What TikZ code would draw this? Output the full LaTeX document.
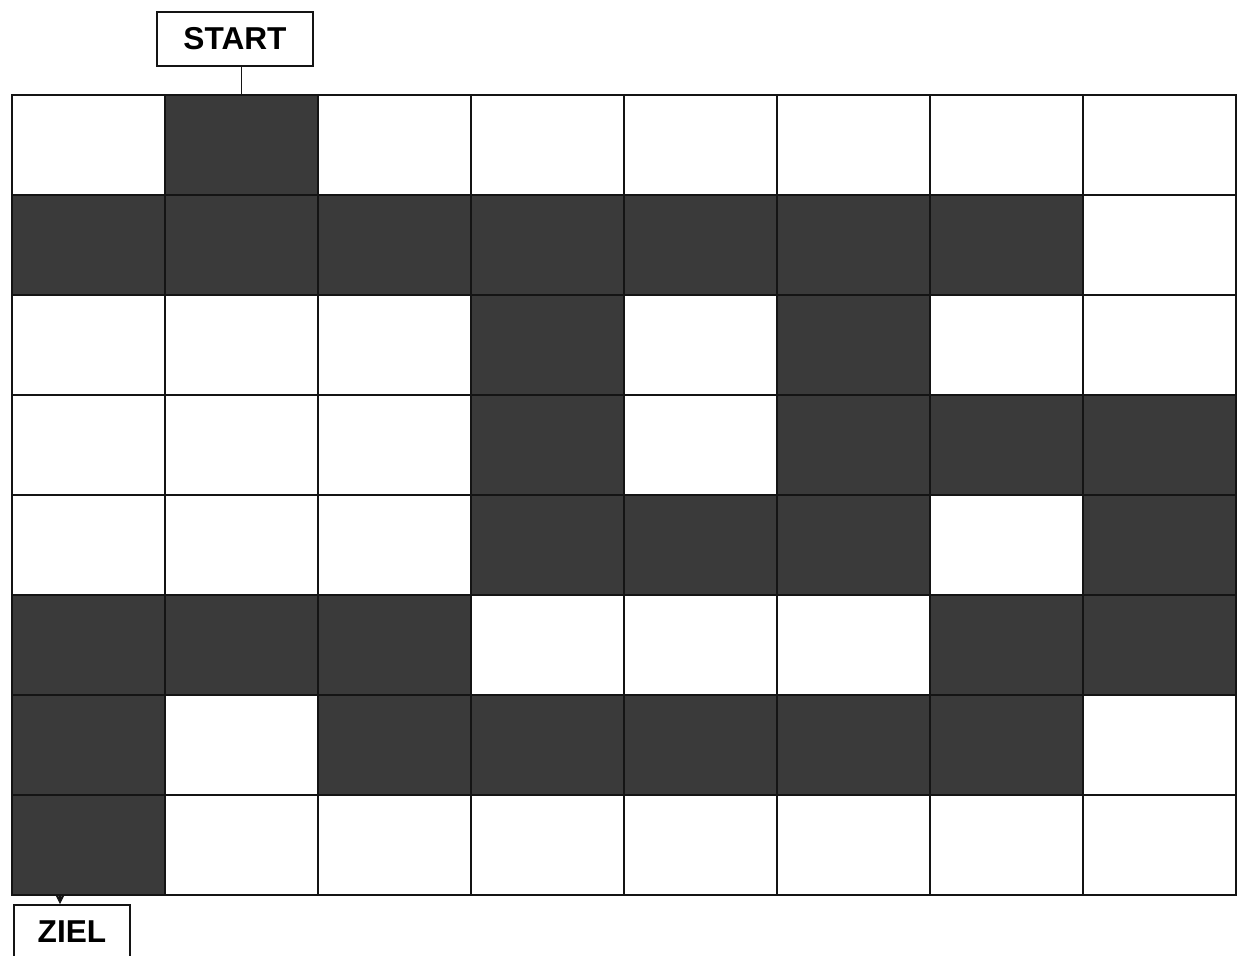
\documentclass[tikz,border=0pt]{standalone}
\usepackage{fontspec}
\setmainfont{Liberation Sans}
\usetikzlibrary{arrows.meta,positioning,calc}
\definecolor{ink}{RGB}{20,20,20}
\definecolor{wall}{RGB}{58,58,58}
\begin{document}
\begin{tikzpicture}[
          cell/.style={draw=ink,line width=0.8pt,minimum width=3.06cm,minimum height=2cm,
                       inner sep=0pt,outer sep=0pt},
          tag/.style={draw=ink,line width=1pt,fill=white,font=\fontsize{18}{20}\selectfont\bfseries,
                      minimum height=1.08cm,inner sep=0pt},
          ar/.style={-{Stealth[length=2mm,width=2mm]},draw=ink,line width=0.6pt}
        ]
        \useasboundingbox (0,0) rectangle (24.76,-19.1);
        % maze grid, 8 x 8
        \foreach \r in {0,...,7}
          \foreach \c in {0,...,7}
            \node[cell] (c\r\c) at ({0.24+3.06*(\c+0.5)},{-1.9-2*(\r+0.5)}) {};
        % dark cells = path
        \foreach \rc in {01,10,11,12,13,14,15,16,23,25,33,35,36,37,43,44,45,47,
                         50,51,52,56,57,60,62,63,64,65,66,70}
          \filldraw[fill=wall,draw=ink,line width=0.8pt] (c\rc.south west) rectangle (c\rc.north east);
        \node[tag,minimum width=3.12cm] (start) at (4.7,-0.78) {START};
        \draw[ink,line width=0.6pt] (c01.north) -- (c01.north |- start.south);
        \node[tag,minimum width=2.32cm] (ziel) at (1.44,-18.64) {ZIEL};
        \coordinate (exit) at (1.2,-17.9);
        \draw[ar] (exit) -- (exit |- ziel.north);
      \end{tikzpicture}
\end{document}
